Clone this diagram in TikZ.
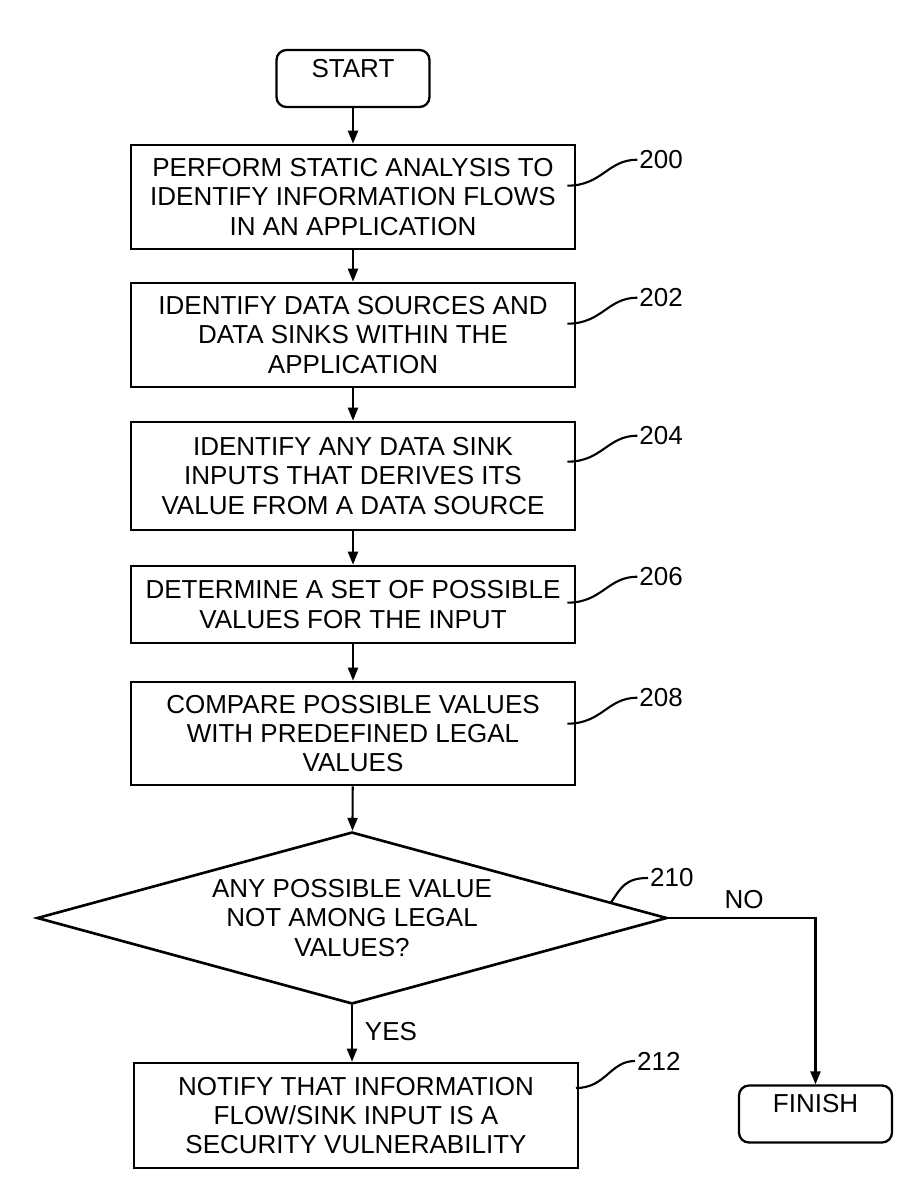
\documentclass[tikz,border=0pt]{standalone}
\usepackage{fontspec}
\setmainfont{Liberation Sans}
\usetikzlibrary{arrows.meta,shapes.geometric}

\tikzset{
    stepbox/.style={draw, line width=1.5pt, minimum width=8.88cm, align=center, inner sep=0pt},
    endbox/.style={draw, line width=1.3pt, rounded corners=0.2cm, minimum width=3.06cm,
        text height=0.44cm, text depth=0.5cm, inner sep=0.1cm},
    flow/.style={line width=1.2pt, -{Triangle[length=0.26cm, width=0.2cm]}},
    leader/.style={line width=1.2pt},
    refnum/.style={anchor=west, inner sep=1pt}
}

\begin{document}
\begin{tikzpicture}[font=\fontsize{14.8}{16.6}\selectfont]
        \useasboundingbox (0,0) rectangle (18.36,-23.98);
        \node[endbox] (start) at (7.06,-1.57) {START};
        \node[stepbox, minimum height=2.08cm] (b200) at (7.06,-3.94) {PERFORM STATIC ANALYSIS TO\\IDENTIFY INFORMATION FLOWS\\IN AN APPLICATION};
        \node[stepbox, minimum height=2.08cm] (b202) at (7.06,-6.70) {IDENTIFY DATA SOURCES AND\\DATA SINKS WITHIN THE\\APPLICATION};
        \node[stepbox, minimum height=2.16cm] (b204) at (7.06,-9.52) {IDENTIFY ANY DATA SINK\\INPUTS THAT DERIVES ITS\\VALUE FROM A DATA SOURCE};
        \node[stepbox, minimum height=1.54cm] (b206) at (7.06,-12.09) {DETERMINE A SET OF POSSIBLE\\VALUES FOR THE INPUT};
        \node[stepbox, minimum height=2.06cm] (b208) at (7.06,-14.67) {COMPARE POSSIBLE VALUES\\WITH PREDEFINED LEGAL\\VALUES};
        \node[draw, diamond, shape aspect=3.66, line width=1.5pt, minimum width=12.6cm, minimum height=3.44cm,
            inner sep=0pt, align=center] (dia) at (7.04,-18.36) {ANY POSSIBLE VALUE\\NOT AMONG LEGAL\\VALUES?};
        \node[stepbox, minimum height=2.10cm] (b212) at (7.12,-22.31) {NOTIFY THAT INFORMATION\\FLOW/SINK INPUT IS A\\SECURITY VULNERABILITY};
        \node[endbox] (finish) at (16.31,-22.28) {FINISH};
        \node (yes) at (7.82,-20.64) {YES};
        \node (no) at (14.88,-18.0) {NO};
        % reference numerals
        \foreach \b/\n/\dy in {b200/200/0.32,b202/202/0.32,b204/204/0.30,b206/206/0.24,b208/208/0.34} {
            \node[refnum] (n\n) at ([shift={(1.22,-\dy)}]\b.north east) {\n};
            \draw[leader] (n\n.west) .. controls +(-0.6,0) and +(0.7,0) .. ++(-1.4,-0.52);
        }
        \node[refnum] (n210) at (12.96,-17.56) {210};
        \draw[leader] (n210.west) .. controls +(-0.45,0) and +(0.2,0.3) .. (12.22,-18.05);
        \node[refnum] (n212) at (12.70,-21.22) {212};
        \draw[leader] (n212.west) .. controls +(-0.5,0) and +(0.6,0) .. (11.52,-21.76);
        % connectors
        \draw[flow] (start) -- (b200);
        \draw[flow] (b200) -- (b202);
        \draw[flow] (b202) -- (b204);
        \draw[flow] (b204) -- (b206);
        \draw[flow] (b206) -- (b208);
        \draw[flow] (b208) -- (dia);
        \draw[flow] (dia.south) -- (dia.south |- b212.north);
        \draw[flow] (dia.east) -| (finish.north);
    \end{tikzpicture}
\end{document}
